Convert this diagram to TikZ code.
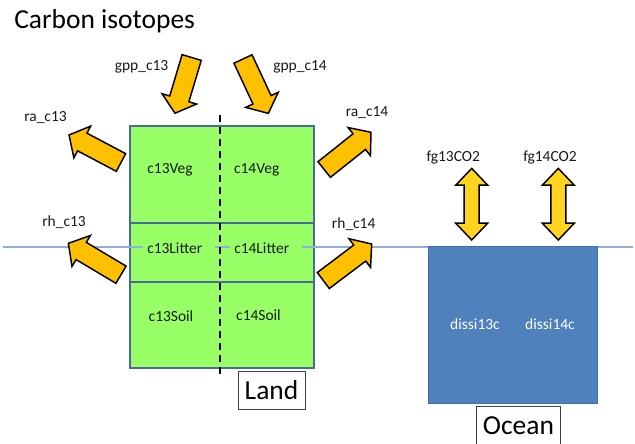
\documentclass[tikz,border=0pt]{standalone}
\usepackage{fontspec}
\setmainfont{Carlito}
\definecolor{landgreen}{HTML}{99FF66}
\definecolor{boxedge}{HTML}{4A6A9C}
\definecolor{oceanblue}{HTML}{4F81BD}
\definecolor{oceanedge}{HTML}{3F6EA8}
\definecolor{hline}{HTML}{8FB0DC}
\definecolor{arrorange}{HTML}{FFC000}
\definecolor{arryellow}{HTML}{FFD320}
\newcommand{\barrow}[4]{%
  \draw[blockarrow, fill=#4, shift={(#1)}, rotate=#2]
    (0,-10) -- ({#3-15},-10) -- ({#3-15},-18) -- (#3,0) -- ({#3-15},18) -- ({#3-15},10) -- (0,10) -- cycle;}
\newcommand{\dblarrow}[1]{%
  \draw[blockarrow, fill=arryellow, shift={(#1)}]
    (0,-35.8) -- (16,-19) -- (7.5,-19) -- (7.5,19) -- (16,19) -- (0,35.8)
    -- (-16,19) -- (-7.5,19) -- (-7.5,-19) -- (-16,-19) -- cycle;}
\begin{document}
\begin{tikzpicture}[x=0.75pt,y=-0.75pt,
  greenbox/.style={draw=boxedge, line width=1.4pt, fill=landgreen, anchor=north west, inner sep=0pt, minimum width=138pt},
  lab/.style={font=\fontsize{11.6pt}{13pt}\selectfont, text=black!90, anchor=base, inner sep=0pt},
  litterlab/.style={lab, fill=landgreen, anchor=base west, inner xsep=3pt, inner ysep=2pt, text width=48pt, align=left},
  whitelab/.style={lab, text=white},
  bigbox/.style={draw=black!75, line width=0.7pt, font=\fontsize{20.6pt}{24pt}\selectfont, inner sep=0pt},
  blockarrow/.style={draw=black, line width=1.1pt, line join=miter},
]
\useasboundingbox (0,0) rectangle (635,443);

% title
\node[font=\fontsize{20.6pt}{24pt}\selectfont, anchor=base west, inner sep=0pt] (title) at (14,28) {Carbon isotopes};

% land compartments
\node[greenbox, minimum height=72.75pt] (veg) at (129,125) {};
\node[greenbox, minimum height=44.25pt] (litter) at (129,222) {};
\node[greenbox, minimum height=64.5pt] (soil) at (129,281) {};

% horizontal surface line
\coordinate (hl) at (3,247);
\coordinate (hr) at (633,247);
\draw[hline, line width=0.8pt] (hl) -- (hr);

% compartment labels
\node[lab] (c13veg) at (170,173.3) {c13Veg};
\node[lab] (c14veg) at (256.7,173.3) {c14Veg};
\node[litterlab] (c13lit) at (143,253.3) {c13Litter};
\node[litterlab] (c14lit) at (230,253.3) {c14Litter};
\node[lab] (c13soil) at (171,321.7) {c13Soil};
\node[lab] (c14soil) at (258.5,320) {c14Soil};

% dashed divider
\coordinate (dtop) at (220,115);
\coordinate (dbot) at (220,377);
\draw[line width=1.5pt, dash pattern=on 5.25pt off 3.75pt] (dtop) -- (dbot);

% ocean
\node[draw=oceanedge, line width=1pt, fill=oceanblue, anchor=north west, inner sep=0pt,
      minimum width=126.75pt, minimum height=117.75pt] (ocean) at (428,246) {};
\node[whitelab] (d13) at (475,329) {dissi13c};
\node[whitelab] (d14) at (550,329) {dissi14c};

% flux labels
\node[lab] (gpp13) at (141.5,70) {gpp\_c13};
\node[lab] (gpp14) at (300,70) {gpp\_c14};
\node[lab] (ra13) at (45.5,121.7) {ra\_c13};
\node[lab] (rh13) at (64,226) {rh\_c13};
\node[lab] (ra14) at (367,116.7) {ra\_c14};
\node[lab] (rh14) at (353.7,228.3) {rh\_c14};
\node[lab] (fg13) at (453.3,161.7) {fg13CO2};
\node[lab] (fg14) at (550,161.7) {fg14CO2};

% block arrows (tail points)
\coordinate (gpp13t) at (191.7,57.5);
\coordinate (gpp14t) at (243,59);
\coordinate (ra13t) at (121,162.5);
\coordinate (rh13t) at (121,274.7);
\coordinate (ra14t) at (324.2,169.5);
\coordinate (rh14t) at (323.3,280.5);
\barrow{gpp13t}{-106.7}{58.2}{arrorange}
\barrow{gpp14t}{-65}{60}{arrorange}
\barrow{ra13t}{152.1}{58.8}{arrorange}
\barrow{rh13t}{149.2}{61.3}{arrorange}
\barrow{ra14t}{38.5}{59.8}{arrorange}
\barrow{rh14t}{37}{60.6}{arrorange}

% gas exchange arrows
\coordinate (fg13c) at (471.7,204.2);
\coordinate (fg14c) at (558.3,204.2);
\dblarrow{fg13c}
\dblarrow{fg14c}

% domain labels
\node[bigbox, minimum width=50.25pt, minimum height=28.5pt] (land) at (271.5,390) {Land};
\node[bigbox, anchor=north west, minimum width=63pt, inner ysep=8pt, text depth=12pt] (oceanlab) at (476,406) {Ocean};
\end{tikzpicture}
\end{document}
